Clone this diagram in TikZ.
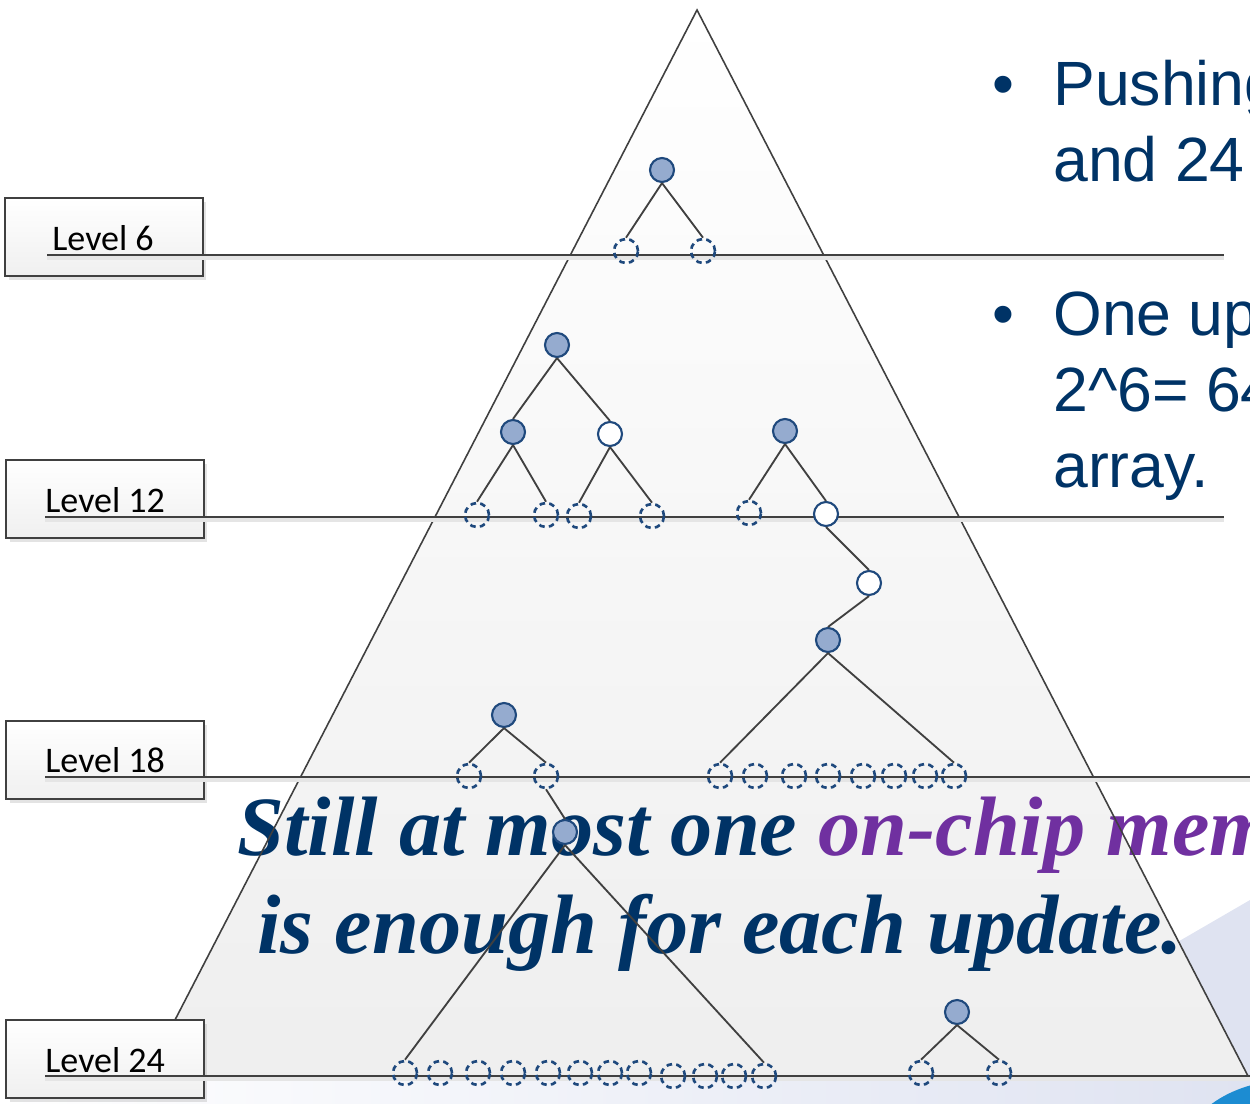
\documentclass[tikz,border=0pt]{standalone}
\usepackage{fontspec}
\setmainfont{Liberation Serif}
\newfontfamily\calibri{Carlito}
\newfontfamily\arial{Liberation Sans}
\usepackage{tikz}
\usetikzlibrary{shadows}
\definecolor{nodeblue}{RGB}{149,171,207}
\definecolor{rimblue}{RGB}{31,73,125}
\definecolor{slidegray}{RGB}{64,64,64}
\definecolor{titleblue}{RGB}{0,51,102}
\definecolor{chippurple}{RGB}{112,48,160}
\definecolor{lavender}{RGB}{223,227,241}
\definecolor{logoblue}{RGB}{28,140,210}

\begin{document}
\begin{tikzpicture}[
    x=0.02cm,
    y=-0.02cm,
    levelbox/.style={
		rectangle,
		draw=slidegray,
		line width=1.1pt,
		top color=white,
		bottom color=gray!12,
		minimum width=3.96cm,
		minimum height=1.56cm,
		drop shadow={opacity=0.22, shadow xshift=2pt, shadow yshift=-2pt}
	},
	leveltext/.style={
		inner sep=0pt,
		font=\calibri\fontsize{20.5}{24}\selectfont
	},
	rule/.style={
		draw=slidegray,
		line width=1.2pt,
		preaction={draw=black!10, line width=2.6pt, transform canvas={yshift=-1.8pt}}
	},
	fullnode/.style={
		circle,
		draw=rimblue,
		fill=nodeblue,
		line width=1.2pt,
		inner sep=0pt,
		minimum size=0.48cm
	},
	opennode/.style={
		fullnode,
		fill=white
	},
	slotnode/.style={
		circle,
		draw=rimblue,
		line width=1.5pt,
		dash pattern=on 3.2pt off 2.4pt,
		inner sep=0pt,
		minimum size=0.48cm
	},
	branch/.style={
		draw=slidegray,
		line width=1.05pt
	},
	bullets/.style={
		inner sep=0pt,
		text=titleblue,
		font=\arial\fontsize{35.6}{43.5}\selectfont
	},
	motto/.style={
		inner sep=0pt,
		text=titleblue,
		font=\fontsize{48}{56}\selectfont\bfseries\itshape
	}
  ]

\useasboundingbox (0,0) rectangle (1250,1103);
\clip (0,0) rectangle (1250,1103);

% // slide background
\fill[lavender] (1150,958) -- (1250,900) -- (1250,1103) -- (1150,1103) -- cycle;
\fill[left color=white, right color=lavender] (0,1080) rectangle (1250,1103);
\fill[logoblue] (1290,1160) ellipse (2.2cm and 1.6cm);
\fill[white] (1302,1168) ellipse (1.95cm and 1.38cm);

% // the pyramid
\coordinate (apex) at (697,10);
\coordinate (baseL) at (146,1076);
\coordinate (baseR) at (1248,1076);
\fill[top color=white, bottom color=gray!13] (apex) -- (baseR) -- (baseL) -- cycle;

\node[motto, anchor=base west] (still) at (237,855) {Still at most one \textcolor{chippurple}{on-chip mem}};
\node[motto, anchor=base west] (enough) at (257,953) {is enough for each update.};

\draw[slidegray, line width=0.9pt] (apex) -- (baseR) -- (baseL) -- cycle;

% // levels
\node[levelbox] (lv6)  at (104,237)  {};
\node[levelbox] (lv12) at (105,499)  {};
\node[levelbox] (lv18) at (105,760)  {};
\node[levelbox] (lv24) at (105,1059) {};
\node[leveltext, anchor=base west] (t6)  at (52,250)  {Level 6};
\node[leveltext, anchor=base west] (t12) at (45,512)  {Level 12};
\node[leveltext, anchor=base west] (t18) at (45,772)  {Level 18};
\node[leveltext, anchor=base west] (t24) at (45,1072) {Level 24};

\draw[rule] (47,255) -- (1224,255);
\draw[rule] (45,517) -- (1224,517);
\draw[rule] (45,777) -- (1250,777);
\draw[rule] (45,1076) -- (1250,1076);

% // tree under level 6
\node[fullnode] (p0) at (662,170) {};
\node[slotnode] (p1) at (626,251) {};
\node[slotnode] (p2) at (703,251) {};
\draw[branch] (p0.south) -- (p1.north);
\draw[branch] (p0.south) -- (p2.north);

% // tree under level 12
\node[fullnode] (q0) at (557,345) {};
\node[fullnode] (q1) at (513,432) {};
\node[opennode] (q2) at (610,434) {};
\node[slotnode] (q3) at (477,515) {};
\node[slotnode] (q4) at (546,515) {};
\node[slotnode] (q5) at (579,516) {};
\node[slotnode] (q6) at (652,516) {};
\draw[branch] (q0.south) -- (q1.north);
\draw[branch] (q0.south) -- (q2.north);
\draw[branch] (q1.south) -- (q3.north);
\draw[branch] (q1.south) -- (q4.north);
\draw[branch] (q2.south) -- (q5.north);
\draw[branch] (q2.south) -- (q6.north);

% // long chain down to level 18
\node[fullnode] (c0) at (785,431) {};
\node[slotnode] (c1) at (749,513) {};
\node[opennode] (c2) at (826,514) {};
\node[opennode] (c3) at (869,583) {};
\node[fullnode] (c4) at (828,640) {};
\draw[branch] (c0.south) -- (c1.north);
\draw[branch] (c0.south) -- (c2.north);
\draw[branch] (c2.south) -- (c3.north);
\draw[branch] (c3.south) -- (c4.north);

\node[slotnode] (d1) at (720,776) {};
\node[slotnode] (d2) at (755,776) {};
\node[slotnode] (d3) at (794,776) {};
\node[slotnode] (d4) at (828,776) {};
\node[slotnode] (d5) at (863,776) {};
\node[slotnode] (d6) at (894,776) {};
\node[slotnode] (d7) at (925,776) {};
\node[slotnode] (d8) at (954,776) {};
\draw[branch] (c4.south) -- (d1.north);
\draw[branch] (c4.south) -- (d8.north);

% // tree from level 18 down to level 24
\node[fullnode] (s0) at (504,715) {};
\node[slotnode] (s1) at (469,776) {};
\node[slotnode] (s2) at (546,776) {};
\node[fullnode] (s3) at (565,832) {};
\draw[branch] (s0.south) -- (s1.north);
\draw[branch] (s0.south) -- (s2.north);
\draw[branch] (s2.south) -- (s3.north);

\node[slotnode] (u1)  at (405,1073) {};
\node[slotnode] (u2)  at (440,1073) {};
\node[slotnode] (u3)  at (478,1073) {};
\node[slotnode] (u4)  at (513,1073) {};
\node[slotnode] (u5)  at (548,1073) {};
\node[slotnode] (u6)  at (580,1073) {};
\node[slotnode] (u7)  at (610,1073) {};
\node[slotnode] (u8)  at (639,1073) {};
\node[slotnode] (u9)  at (673,1076) {};
\node[slotnode] (u10) at (705,1076) {};
\node[slotnode] (u11) at (734,1076) {};
\node[slotnode] (u12) at (764,1076) {};
\draw[branch] (s3.south) -- (u1.north);
\draw[branch] (s3.south) -- (u12.north);

% // small tree on level 24
\node[fullnode] (e0) at (957,1012) {};
\node[slotnode] (e1) at (921,1073) {};
\node[slotnode] (e2) at (999,1073) {};
\draw[branch] (e0.south) -- (e1.north);
\draw[branch] (e0.south) -- (e2.north);

% // bullet points
\node[bullets, anchor=base] (dot1) at (1003,105) {\textbullet};
\node[bullets, anchor=base west] (pts1) at (1053,105)
 {%
 \begin{tabular}[t]{@{}l@{}}
  Pushing\\
  and 24
 \end{tabular}
 };
\node[bullets, anchor=base] (dot2) at (1003,335) {\textbullet};
\node[bullets, anchor=base west] (pts2) at (1053,335)
 {%
 \begin{tabular}[t]{@{}l@{}}
  One up\\
  2\textasciicircum 6= 64\\
  array.
 \end{tabular}
 };

\end{tikzpicture}
\end{document}
